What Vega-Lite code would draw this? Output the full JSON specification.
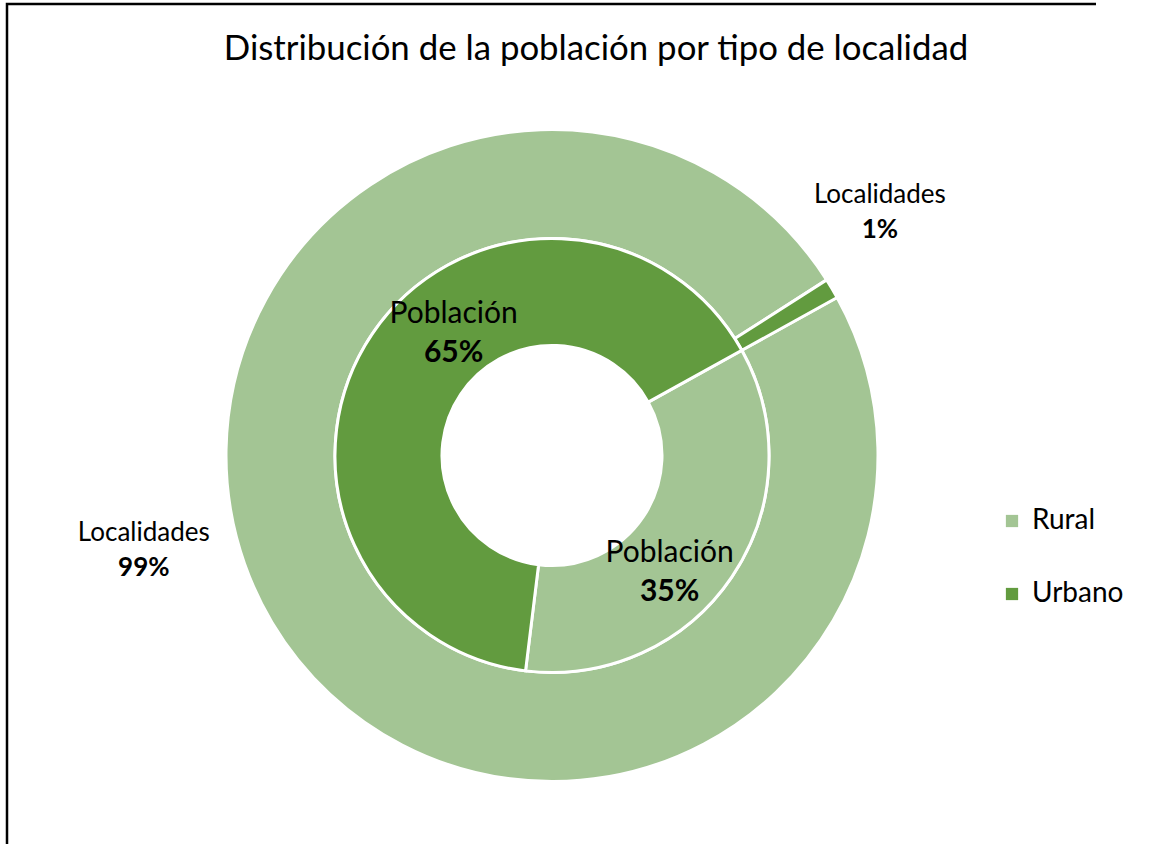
{
  "$schema": "https://vega.github.io/schema/vega-lite/v6.json",
  "autosize": {"type": "none"},
  "padding": {"left": 7, "top": 4, "right": 78, "bottom": 0},
  "width": 1090,
  "height": 903,
  "background": "white",
  "view": {"stroke": "black", "strokeWidth": 2.5, "strokeDash": [1089, 905, 2000, 0]},
  "config": {
    "font": "Lato",
    "view": {"stroke": "black", "strokeWidth": 2.5, "strokeDash": [1089, 905, 2000, 0]}
  },
  "title": {
    "text": "Distribución de la población por tipo de localidad",
    "font": "Lato",
    "fontSize": 34.8,
    "fontWeight": "normal",
    "color": "black",
    "anchor": "middle",
    "frame": "group",
    "offset": -64,
    "dx": 44
  },
  "data": {
    "values": [
      {"anillo": "Localidades", "tipo": "Rural", "pct": 99, "etiqueta": "99%"},
      {"anillo": "Localidades", "tipo": "Urbano", "pct": 1, "etiqueta": "1%"},
      {"anillo": "Población", "tipo": "Rural", "pct": 35, "etiqueta": "35%"},
      {"anillo": "Población", "tipo": "Urbano", "pct": 65, "etiqueta": "65%"}
    ]
  },
  "layer": [
    {
      "transform": [{"filter": "datum.anillo === 'Localidades'"}],
      "mark": {"type": "arc", "innerRadius": 217, "outerRadius": 326, "stroke": "white", "strokeWidth": 3},
      "encoding": {
        "theta": {"field": "pct", "type": "quantitative", "stack": true, "scale": {"range": [1.0647, 7.3479]}},
        "order": {"field": "tipo", "type": "ordinal", "sort": "ascending"},
        "color": {
          "field": "tipo", "type": "nominal",
          "scale": {"domain": ["Rural", "Urbano"], "range": ["#A3C594", "#629B3F"]},
          "legend": {
            "title": null, "orient": "none", "legendX": 991, "legendY": 503,
            "symbolType": "square", "symbolSize": 150, "symbolStrokeWidth": 0,
            "labelFontSize": 28, "labelFont": "Lato", "labelColor": "black",
            "labelOffset": 6, "rowPadding": 45
          }
        }
      }
    },
    {
      "transform": [{"filter": "datum.anillo === 'Población'"}],
      "mark": {"type": "arc", "innerRadius": 110, "outerRadius": 217, "stroke": "white", "strokeWidth": 3},
      "encoding": {
        "theta": {"field": "pct", "type": "quantitative", "stack": true, "scale": {"range": [1.0647, 7.3479]}},
        "order": {"field": "tipo", "type": "ordinal", "sort": "ascending"},
        "color": {"field": "tipo", "type": "nominal"}
      }
    },
    {
      "transform": [{"filter": "datum.anillo === 'Población'"}],
      "mark": {"type": "text", "dy": -19.5, "fontSize": 30, "color": "black", "font": "Lato",
               "radius": {"expr": "datum.tipo === 'Urbano' ? 157 : 166"},
               "thetaOffset": {"expr": "datum.tipo === 'Urbano' ? 0.30 : 0.19"}},
      "encoding": {
        "theta": {"field": "pct", "type": "quantitative", "stack": true, "scale": {"range": [1.0647, 7.3479]}},
        "order": {"field": "tipo", "type": "ordinal", "sort": "ascending"},
        "detail": {"field": "tipo", "type": "nominal"},
        "text": {"field": "anillo", "type": "nominal"}
      }
    },
    {
      "transform": [{"filter": "datum.anillo === 'Población'"}],
      "mark": {"type": "text", "dy": 19.5, "fontSize": 30, "fontWeight": "bold", "color": "black", "font": "Lato",
               "radius": {"expr": "datum.tipo === 'Urbano' ? 157 : 166"},
               "thetaOffset": {"expr": "datum.tipo === 'Urbano' ? 0.30 : 0.19"}},
      "encoding": {
        "theta": {"field": "pct", "type": "quantitative", "stack": true, "scale": {"range": [1.0647, 7.3479]}},
        "order": {"field": "tipo", "type": "ordinal", "sort": "ascending"},
        "detail": {"field": "tipo", "type": "nominal"},
        "text": {"field": "etiqueta", "type": "nominal"}
      }
    },
    {
      "transform": [{"filter": "datum.anillo === 'Localidades'"}],
      "mark": {"type": "text", "dy": -17.5, "fontSize": 26, "color": "black", "font": "Lato",
               "radius": {"expr": "datum.tipo === 'Urbano' ? 408 : 419"},
               "thetaOffset": {"expr": "datum.tipo === 'Urbano' ? -0.10 : 0.31"}},
      "encoding": {
        "theta": {"field": "pct", "type": "quantitative", "stack": true, "scale": {"range": [1.0647, 7.3479]}},
        "order": {"field": "tipo", "type": "ordinal", "sort": "ascending"},
        "detail": {"field": "tipo", "type": "nominal"},
        "text": {"field": "anillo", "type": "nominal"}
      }
    },
    {
      "transform": [{"filter": "datum.anillo === 'Localidades'"}],
      "mark": {"type": "text", "dy": 17.5, "fontSize": 26, "fontWeight": "bold", "color": "black", "font": "Lato",
               "radius": {"expr": "datum.tipo === 'Urbano' ? 408 : 419"},
               "thetaOffset": {"expr": "datum.tipo === 'Urbano' ? -0.10 : 0.31"}},
      "encoding": {
        "theta": {"field": "pct", "type": "quantitative", "stack": true, "scale": {"range": [1.0647, 7.3479]}},
        "order": {"field": "tipo", "type": "ordinal", "sort": "ascending"},
        "detail": {"field": "tipo", "type": "nominal"},
        "text": {"field": "etiqueta", "type": "nominal"}
      }
    }
  ]
}
